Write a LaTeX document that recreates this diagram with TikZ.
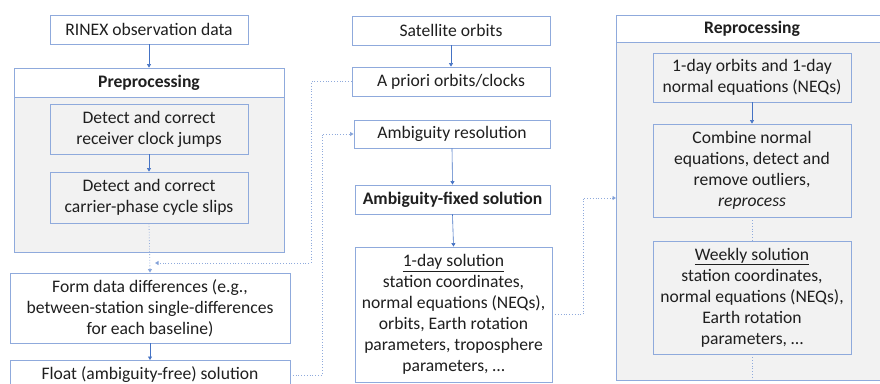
\documentclass[tikz,border=0pt]{standalone}
\usepackage{fontspec}
\setmainfont{Carlito}
\usetikzlibrary{arrows.meta,calc}
\definecolor{bord}{HTML}{8FAADC}
\definecolor{arr}{HTML}{4472C4}
\definecolor{dots}{HTML}{8FAADC}
\definecolor{bgray}{HTML}{F2F2F2}
\definecolor{txt}{HTML}{1F1F1F}
\tikzset{
  box/.style={draw=bord, line width=0.9pt, rectangle, align=center, inner sep=0pt, text=txt,
    font=\fontsize{17.6}{21}\selectfont},
  outer/.style={draw=bord, line width=0.9pt, rectangle, fill=bgray, inner sep=0pt},
  head/.style={box, fill=white, font=\fontsize{17.6}{21}\selectfont\bfseries},
  conn/.style={draw=arr, line width=0.6pt, -{Triangle[length=3.5pt,width=4pt]}},
  dotconn/.style={draw=dots, line width=0.8pt, dotted},
  dotarrow/.style={dotconn, -{Triangle[length=3.5pt,width=4pt,fill=arr]}},
}
\begin{document}
\begin{tikzpicture}[x=1pt,y=-1pt]
\useasboundingbox (0,0) rectangle (880,383);
\clip (0,0) rectangle (880,383);
\fill[white] (0,0) rectangle (880,383);
% left column
\node[box, minimum width=198pt, minimum height=29pt] (rinex) at (149,29.5) {RINEX observation data};
\node[outer, minimum width=270pt, minimum height=184pt] (prep) at (149,160) {};
\node[head, minimum width=270pt, minimum height=29pt] (prephead) at (149,82.5) {Preprocessing};
\node[box, minimum width=198pt, minimum height=50pt] (clock) at (149,129) {Detect and correct\\receiver clock jumps};
\node[box, minimum width=198pt, minimum height=51pt] (carrier) at (149,197.5) {Detect and correct\\carrier-phase cycle slips};
\node[box, minimum width=280pt, minimum height=70pt] (form) at (150,308) {Form data differences (e.g.,\\between-station single-differences\\for each baseline)};
\node[box, minimum width=280pt, minimum height=32pt, anchor=north] (float) at (150,360) {};
\node[box, draw=none, anchor=base] (floattxt) at (150,379) {Float (ambiguity-free) solution};
% middle column
\node[box, minimum width=198pt, minimum height=29pt] (sat) at (451,30.5) {Satellite orbits};
\node[box, minimum width=198pt, minimum height=29pt] (apriori) at (451,81.5) {A priori orbits/clocks};
\node[box, minimum width=196pt, minimum height=28pt] (ambres) at (452,134) {Ambiguity resolution};
\node[box, minimum width=195pt, minimum height=29pt, font=\fontsize{17.6}{21}\selectfont\bfseries] (ambfix) at (452.5,199.5) {Ambiguity-fixed solution};
\node[box, minimum width=197pt, minimum height=135pt] (oneday) at (453.5,314.5) {\underline{1-day solution}\\station coordinates,\\normal equations (NEQs),\\orbits, Earth rotation\\parameters, troposphere\\parameters, \dots};
% right column
\node[outer, minimum width=272pt, minimum height=365pt] (reproc) at (752,197.5) {};
\node[head, minimum width=272pt, minimum height=27pt] (rephead) at (752,28.5) {Reprocessing};
\node[box, minimum width=198pt, minimum height=49pt] (orb1) at (752,77.5) {1-day orbits and 1-day\\normal equations (NEQs)};
\node[box, minimum width=198pt, minimum height=93pt] (combine) at (752,170.5) {Combine normal\\equations, detect and\\remove outliers,\\\textit{reprocess}};
\node[box, minimum width=198pt, minimum height=113pt] (weekly) at (752,297.5) {\underline{Weekly solution}\\station coordinates,\\normal equations (NEQs),\\Earth rotation\\parameters, \dots};
% connectors
\draw[conn] (rinex.south) -- (prephead.north);
\draw[conn] (clock.south) -- (carrier.north);
\draw[dotarrow] (carrier.south) -- (form.north);
\draw[conn] (form.south) -- (float.north);
\draw[conn] (sat.south) -- (apriori.north);
\draw[conn] (ambres.south) -- (ambfix.north);
\draw[conn] (ambfix.south) -- (oneday.north);
\draw[conn] (orb1.south) -- (combine.north);
\draw[dotconn] (combine.south) -- (weekly.north);
\draw[dotconn] (weekly.south) -- (reproc.south);
\coordinate (apend) at (155,263);
\coordinate (floatout) at (290,375);
\coordinate (reprocin) at (616,198);
\draw[dotarrow] (apriori.west) -- (311,81.5) -- (311,263) -- (apend);
\draw[dotarrow] (floatout) -- (322,375) -- (322,134) -- (ambres.west);
\draw[dotarrow] (oneday.east) -- (583,314.5) -- (583,198) -- (reprocin);
\end{tikzpicture}
\end{document}
